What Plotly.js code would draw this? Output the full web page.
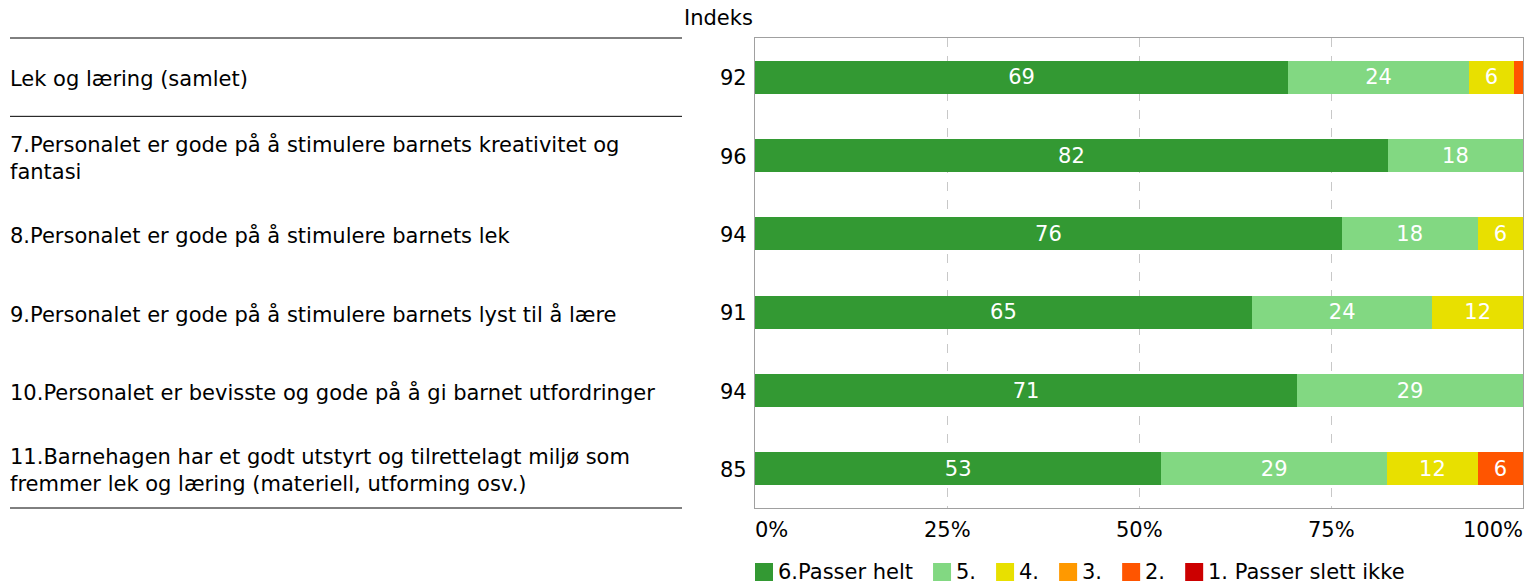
<!DOCTYPE html>
<html><head><meta charset="utf-8">
<script src="https://cdn.plot.ly/plotly-3.0.1.min.js"></script>
<style>html,body{margin:0;padding:0;background:#fff;}#chart{width:1526px;height:584px;}</style>
</head><body><div id="chart"></div>
<script>
const categories = [
  "Lek og læring (samlet)",
  "7.Personalet er gode på å stimulere barnets kreativitet og<br>fantasi",
  "8.Personalet er gode på å stimulere barnets lek",
  "9.Personalet er gode på å stimulere barnets lyst til å lære",
  "10.Personalet er bevisste og gode på å gi barnet utfordringer",
  "11.Barnehagen har et godt utstyrt og tilrettelagt miljø som<br>fremmer lek og læring (materiell, utforming osv.)"
];
const indeks = [92, 96, 94, 91, 94, 85];
const seriesNames = ["6.Passer helt", "5.", "4.", "3.", "2.", "1. Passer slett ikke"];
const seriesColors = ["#339933", "#82d882", "#e8e000", "#ff9900", "#ff5500", "#cc0000"];
const s6 = [69.4, 82.4, 76.4, 64.7, 70.6, 52.9];
const s5 = [23.6, 17.6, 17.7, 23.5, 29.4, 29.4];
const s4 = [5.8, 0, 5.9, 11.8, 0, 11.8];
const s3 = [0, 0, 0, 0, 0, 0];
const s2 = [1.2, 0, 0, 0, 0, 5.9];
const s1 = [0, 0, 0, 0, 0, 0];
const tickVals = [0, 25, 50, 75, 100];
const tickLabels = ["0%", "25%", "50%", "75%", "100%"];
const indeksTitle = "Indeks";

const FONT = "DejaVu Sans, Verdana, sans-serif";
const FS = 21;
const allSeries = [s6, s5, s4, s3, s2, s1];

const traces = allSeries.map((vals, i) => ({
  type: "bar", orientation: "h",
  name: seriesNames[i],
  y: categories, x: vals,
  marker: {color: seriesColors[i], line: {width: 0}},
  text: vals.map(v => v >= 3 ? String(Math.round(v)) : ""),
  texttemplate: "%{text}",
  textposition: "inside", insidetextanchor: "middle",
  textfont: {color: "#ffffff", size: FS, family: FONT},
  constraintext: "none",
  hoverinfo: "x+name", showlegend: false
}));

// plot area in pixels
const L = 755, R = 1523, T = 38, B = 508;
const W = R - L, H = B - T;
const px = x => (x - L) / W;
const py = y => (B - y) / H;

const annotations = [];
const shapes = [];
categories.forEach((c, i) => {
  annotations.push({xref: "paper", yref: "y", x: px(10), y: c, xanchor: "left", yanchor: "middle", xshift: -2, yshift: -2,
    text: c, align: "left", showarrow: false, font: {size: FS, family: FONT, color: "#000"}});
  annotations.push({xref: "paper", yref: "y", x: px(749), y: c, xanchor: "right", yanchor: "middle", yshift: -1,
    text: String(indeks[i]), showarrow: false, font: {size: FS, family: FONT, color: "#000"}});
});
annotations.push({xref: "paper", yref: "paper", x: px(755), y: py(18), xanchor: "right", yanchor: "middle",
  text: indeksTitle, showarrow: false, font: {size: FS, family: FONT, color: "#000"}});
tickVals.forEach((v, i) => {
  annotations.push({xref: "x", yref: "paper", x: v, y: py(530), yanchor: "middle",
    xanchor: i === 0 ? "left" : (i === tickVals.length - 1 ? "right" : "center"),
    xshift: i === 0 ? -2 : (i === tickVals.length - 1 ? 2 : 0),
    text: tickLabels[i], showarrow: false, font: {size: FS, family: FONT, color: "#000"}});
});
// separator lines
[py(T), 0, py(B)].forEach((yy, k) => {
  shapes.push({type: "line", xref: "paper", yref: k === 1 ? "y" : "paper",
    x0: px(10), x1: px(682), y0: k === 1 ? 0.5 : yy, y1: k === 1 ? 0.5 : yy,
    line: {color: "#000", width: 1}});
});
// custom legend
const cv = document.createElement("canvas").getContext("2d");
cv.font = FS + "px 'DejaVu Sans'";
let lx = L;
const ly = 572, sq = 18;
seriesNames.forEach((n, i) => {
  shapes.push({type: "rect", xref: "paper", yref: "paper", x0: px(lx), x1: px(lx + sq),
    y0: py(ly + sq / 2), y1: py(ly - sq / 2), fillcolor: seriesColors[i], line: {width: 0}});
  annotations.push({xref: "paper", yref: "paper", x: px(lx + sq + 5), y: py(ly), xanchor: "left", yanchor: "middle",
    text: n, showarrow: false, font: {size: FS, family: FONT, color: "#000"}, xshift: -2});
  lx += sq + 5 + cv.measureText(n).width + 20;
});

const layout = {
  width: 1526, height: 584,
  margin: {l: L, r: 1526 - R, t: T, b: 584 - B, pad: 0},
  barmode: "stack", bargap: 0.58,
  paper_bgcolor: "#fff", plot_bgcolor: "#fff",
  font: {family: FONT, size: FS, color: "#000"},
  xaxis: {range: [0, 100], tickvals: tickVals, showticklabels: false, ticks: "",
    showgrid: true, gridcolor: "#c8c8c8", griddash: "dash", gridwidth: 1,
    showline: true, linecolor: "#a0a0a0", linewidth: 1, mirror: true, zeroline: false, fixedrange: true},
  yaxis: {type: "category", autorange: "reversed", showticklabels: false, ticks: "",
    showgrid: false, showline: true, linecolor: "#a0a0a0", linewidth: 1, mirror: true, fixedrange: true},
  showlegend: false,
  annotations: annotations, shapes: shapes
};
Plotly.newPlot("chart", traces, layout, {displayModeBar: false, staticPlot: true});
</script></body></html>
